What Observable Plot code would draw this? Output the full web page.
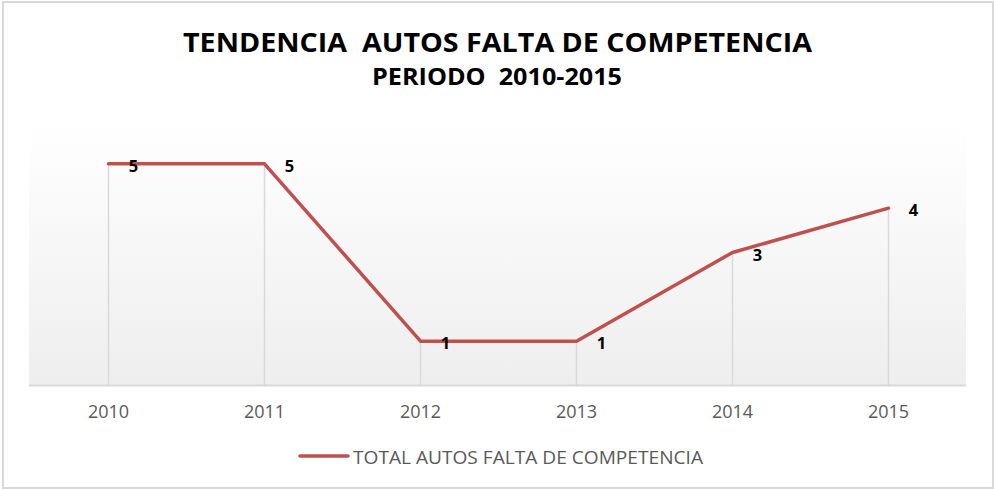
<!DOCTYPE html>
<html>
<head>
<meta charset="utf-8">
<script src="https://cdn.jsdelivr.net/npm/d3@7"></script>
<script src="https://cdn.jsdelivr.net/npm/@observablehq/plot@0.6"></script>
<style>
  html, body { margin: 0; padding: 0; background: #fff; }
  #wrap { position: relative; width: 994px; height: 489px; overflow: hidden; font-family: "Open Sans", sans-serif; }
  #frame { position: absolute; left: 2px; top: 1px; width: 988px; height: 484px; border: 2px solid #d9d9d9; }
  .t { position: absolute; white-space: nowrap; transform-origin: 0 50%; line-height: 1; }
  #chart { position: absolute; left: 0; top: 0; }
</style>
</head>
<body>
<div id="wrap">
  <div id="frame"></div>
  <div id="chart"></div>
  <div class="t" id="title" style="font-weight:700;font-size:27px;color:#000;">TENDENCIA&nbsp; AUTOS FALTA DE COMPETENCIA</div>
  <div class="t" id="subtitle" style="font-weight:700;font-size:24px;color:#000;">PERIODO&nbsp; 2010-2015</div>
  <svg class="t" id="swatch" width="56" height="10" style="position:absolute;left:296px;top:451px;">
    <line x1="4" x2="52" y1="5" y2="5" stroke="#C0504D" stroke-width="3.5" stroke-linecap="round"/>
  </svg>
  <div class="t" id="legend" style="font-size:18px;color:#595959;">TOTAL AUTOS FALTA DE COMPETENCIA</div>
</div>
<script>
const years = ["2010", "2011", "2012", "2013", "2014", "2015"];
const values = [5, 5, 1, 1, 3, 4];
const seriesName = "TOTAL AUTOS FALTA DE COMPETENCIA";

const data = years.map((y, i) => ({year: y, value: values[i]}));

const background = (index, scales, values, dims) => {
  const g = d3.create("svg:g");
  const grad = g.append("defs").append("linearGradient")
    .attr("id", "bg").attr("x1", 0).attr("x2", 0).attr("y1", 0).attr("y2", 1);
  grad.append("stop").attr("offset", "0%").attr("stop-color", "#ffffff");
  grad.append("stop").attr("offset", "100%").attr("stop-color", "#eeeeee");
  g.append("rect")
    .attr("x", dims.marginLeft)
    .attr("y", dims.marginTop)
    .attr("width", dims.width - dims.marginLeft - dims.marginRight)
    .attr("height", dims.height - dims.marginTop - dims.marginBottom)
    .attr("fill", "url(#bg)");
  return g.node();
};

const plot = Plot.plot({
  width: 994,
  height: 489,
  marginLeft: 29,
  marginRight: 28,
  marginTop: 119,
  marginBottom: 104,
  style: {background: "transparent", fontFamily: "Open Sans, sans-serif"},
  x: {type: "point", domain: years, padding: 0.5, label: null},
  y: {domain: [0, 6], axis: null},
  marks: [
    background,
    Plot.ruleX(data, {x: "year", y1: 0, y2: "value", stroke: "#d9d9d9", strokeWidth: 1.5}),
    Plot.ruleY([0], {stroke: "#d9d9d9", strokeWidth: 2}),
    Plot.line(data, {x: "year", y: "value", stroke: "#C0504D", strokeWidth: 3.5, strokeLinecap: "round", strokeLinejoin: "round"}),
    Plot.text(data, {x: "year", y: "value", text: d => String(d.value), dx: 25, dy: 3, fontSize: 16.5, fontWeight: 700, fill: "#000"}),
    Plot.axisX({tickSize: 0, tickPadding: 20, fontSize: 18, color: "#595959", label: null})
  ]
});
document.getElementById("chart").appendChild(plot);

function place(id, cx, cy, targetW, anchorLeft) {
  const el = document.getElementById(id);
  const r = el.getBoundingClientRect();
  const s = targetW / r.width;
  const left = anchorLeft != null ? anchorLeft : cx - targetW / 2;
  el.style.left = left + "px";
  el.style.top = (cy - r.height / 2) + "px";
  el.style.transform = `scaleX(${s})`;
}
place("title", 497.5, 41, 629);
place("subtitle", 497, 76, 250);
place("legend", 0, 457, 350, 353);
</script>
</body>
</html>
